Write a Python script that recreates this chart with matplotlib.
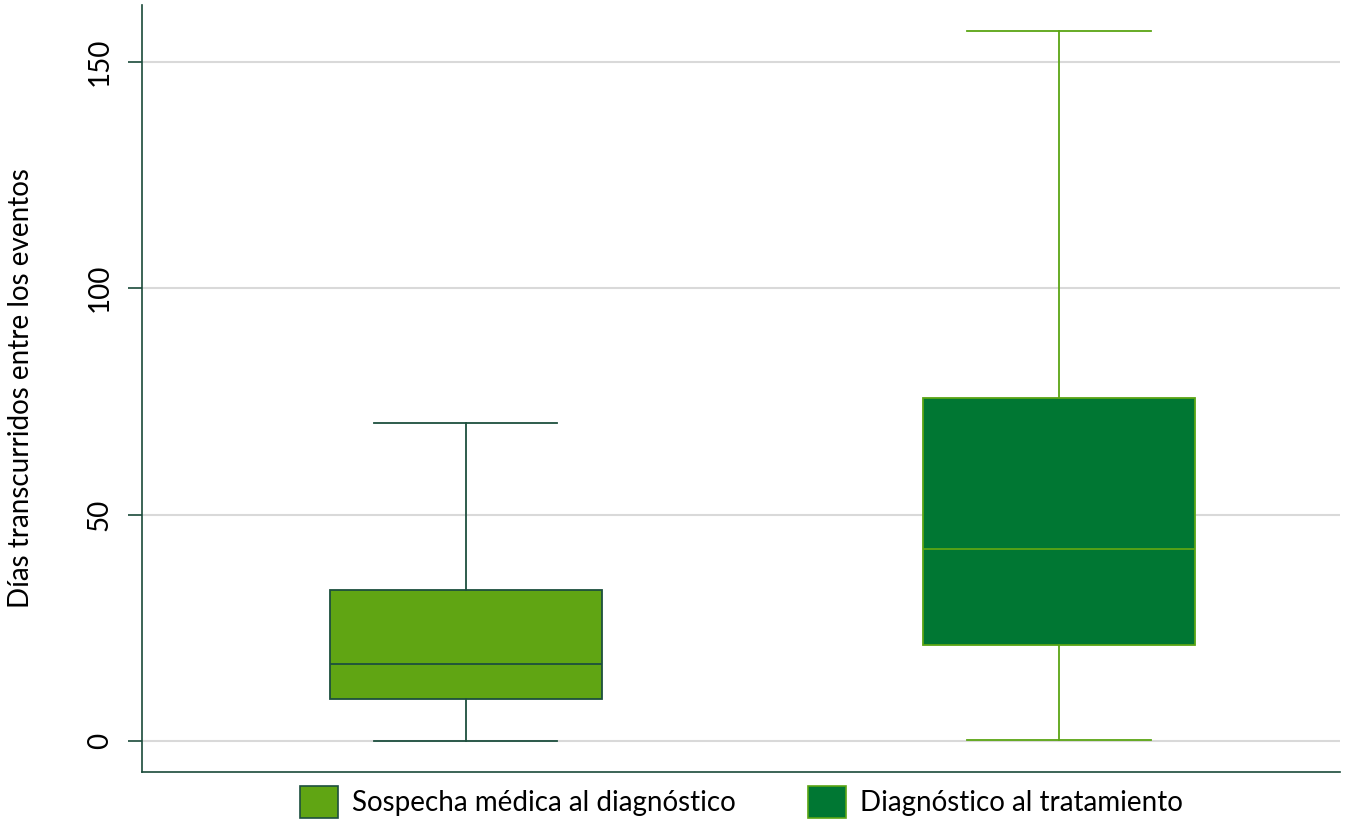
import matplotlib
matplotlib.use("Agg")
import matplotlib.pyplot as plt
from matplotlib.patches import Patch

plt.rcParams['font.family'] = ['Lato', 'DejaVu Sans']

groups = ['Sospecha médica al diagnóstico', 'Diagnóstico al tratamiento']
whislo = [0.0, 0.2]
q1 = [9.3, 21.2]
med = [17.0, 42.4]
q3 = [33.4, 75.8]
whishi = [70.3, 156.8]

fills = ['#60a513', '#007733']
edges = ['#1d4f3e', '#5ba514']
axis_col = '#1a4a3a'

stats = []
for i in range(len(groups)):
    stats.append({'label': groups[i], 'whislo': whislo[i], 'q1': q1[i], 'med': med[i],
                  'q3': q3[i], 'whishi': whishi[i], 'fliers': []})

fig = plt.figure(figsize=(13.45, 8.24), dpi=100)
ax = fig.add_axes([0.1056, 0.0631, 0.8907, 0.931])

for i, s in enumerate(stats):
    ax.bxp([s], positions=[i + 1], widths=0.459, capwidths=0.309, patch_artist=True,
           showfliers=False,
           boxprops=dict(facecolor=fills[i], edgecolor=edges[i], linewidth=1.3),
           medianprops=dict(color=edges[i], linewidth=1.3),
           whiskerprops=dict(color=edges[i], linewidth=1.3),
           capprops=dict(color=edges[i], linewidth=1.3), zorder=3)

ax.set_xlim(0.454, 2.474)
ax.set_ylim(-6.85, 162.6)
ax.set_yticks([0, 50, 100, 150])
ax.set_yticklabels(['0', '50', '100', '150'], rotation=90, va='center', fontsize=20)
ax.set_xticks([])
ax.grid(axis='y', color='#d9d9d9', linewidth=1.5, zorder=0)
ax.set_axisbelow(True)
for side in ['top', 'right']:
    ax.spines[side].set_visible(False)
for side in ['left', 'bottom']:
    ax.spines[side].set_color(axis_col)
    ax.spines[side].set_linewidth(1.2)
ax.tick_params(axis='y', color=axis_col, length=10, width=1.2, pad=11)
ax.set_ylabel('Días transcurridos entre los eventos', fontsize=20, labelpad=38)

handles = [Patch(facecolor=fills[i], edgecolor=edges[i], linewidth=1.2) for i in range(2)]
fig.legend(handles, groups, loc='upper center', bbox_to_anchor=(0.551, 0.046), ncol=2,
           frameon=False, fontsize=20, handlelength=1.37, handleheight=1.37,
           handletextpad=0.5, columnspacing=2.6, borderpad=0, borderaxespad=0)

fig.savefig('out.png', dpi=100)
